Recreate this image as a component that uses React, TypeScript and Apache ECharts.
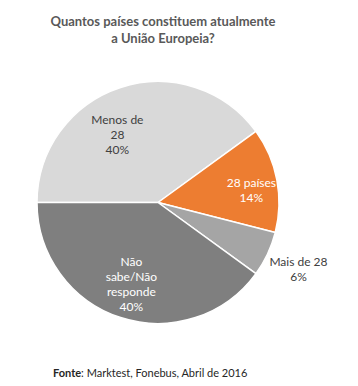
import React, { useEffect, useRef } from "react";
import * as echarts from "echarts";

const categories = ["Menos de 28", "28 países", "Mais de 28", "Não sabe/Não responde"];
const labelTexts = ["Menos de\n28", "28 países", "Mais de 28", "Não\nsabe/Não\nresponde"];
const values = [40, 14, 6, 40];
const colors = ["#D9D9D9", "#ED7D31", "#A5A5A5", "#7F7F7F"];
const labelColors = ["#404040", "#FFFFFF", "#404040", "#FFFFFF"];
const labelShift = [
  [-21, -8],
  [31, -1],
  [83, 39],
  [-7, 21],
];

export default function App() {
  const ref = useRef<HTMLDivElement>(null);
  useEffect(() => {
    document.body.style.margin = "0";
    const chart = echarts.init(ref.current!, null, { renderer: "svg" });
    const font = "Lato, 'Open Sans', sans-serif";
    chart.setOption({
      animation: false,
      backgroundColor: "#FFFFFF",
      title: [
        {
          text: "Quantos países constituem atualmente\na União Europeia?",
          left: 158,
          top: 7,
          textAlign: "center",
          textStyle: {
            fontFamily: font,
            fontSize: 13,
            fontWeight: "bold",
            color: "#595959",
            lineHeight: 17,
            align: "center",
          },
        },
        {
          text: "{b|Fonte}: Marktest, Fonebus, Abril de 2016",
          left: 48,
          top: 362,
          textStyle: {
            fontFamily: font,
            fontSize: 11,
            fontWeight: "normal",
            color: "#262626",
            rich: {
              b: { fontFamily: font, fontSize: 11, fontWeight: "bold", color: "#262626" },
            },
          },
        },
      ],
      series: [
        {
          type: "pie",
          center: [158, 202.5],
          radius: 121,
          startAngle: 180,
          clockwise: true,
          silent: true,
          itemStyle: { borderColor: "#FFFFFF", borderWidth: 1.5 },
          label: {
            show: true,
            position: "inside",
            fontFamily: font,
            fontSize: 12,
            lineHeight: 15,
            align: "center",
          },
          labelLine: { show: false },
          labelLayout: (p: any) => ({ dx: labelShift[p.dataIndex][0], dy: labelShift[p.dataIndex][1] }),
          data: categories.map((name, i) => ({
            name,
            value: values[i],
            itemStyle: { color: colors[i] },
            label: {
              color: labelColors[i],
              formatter: labelTexts[i] + "\n" + values[i] + "%",
            },
          })),
        },
      ],
    });
    return () => chart.dispose();
  }, []);
  return <div ref={ref} style={{ width: 358, height: 386 }} />;
}
